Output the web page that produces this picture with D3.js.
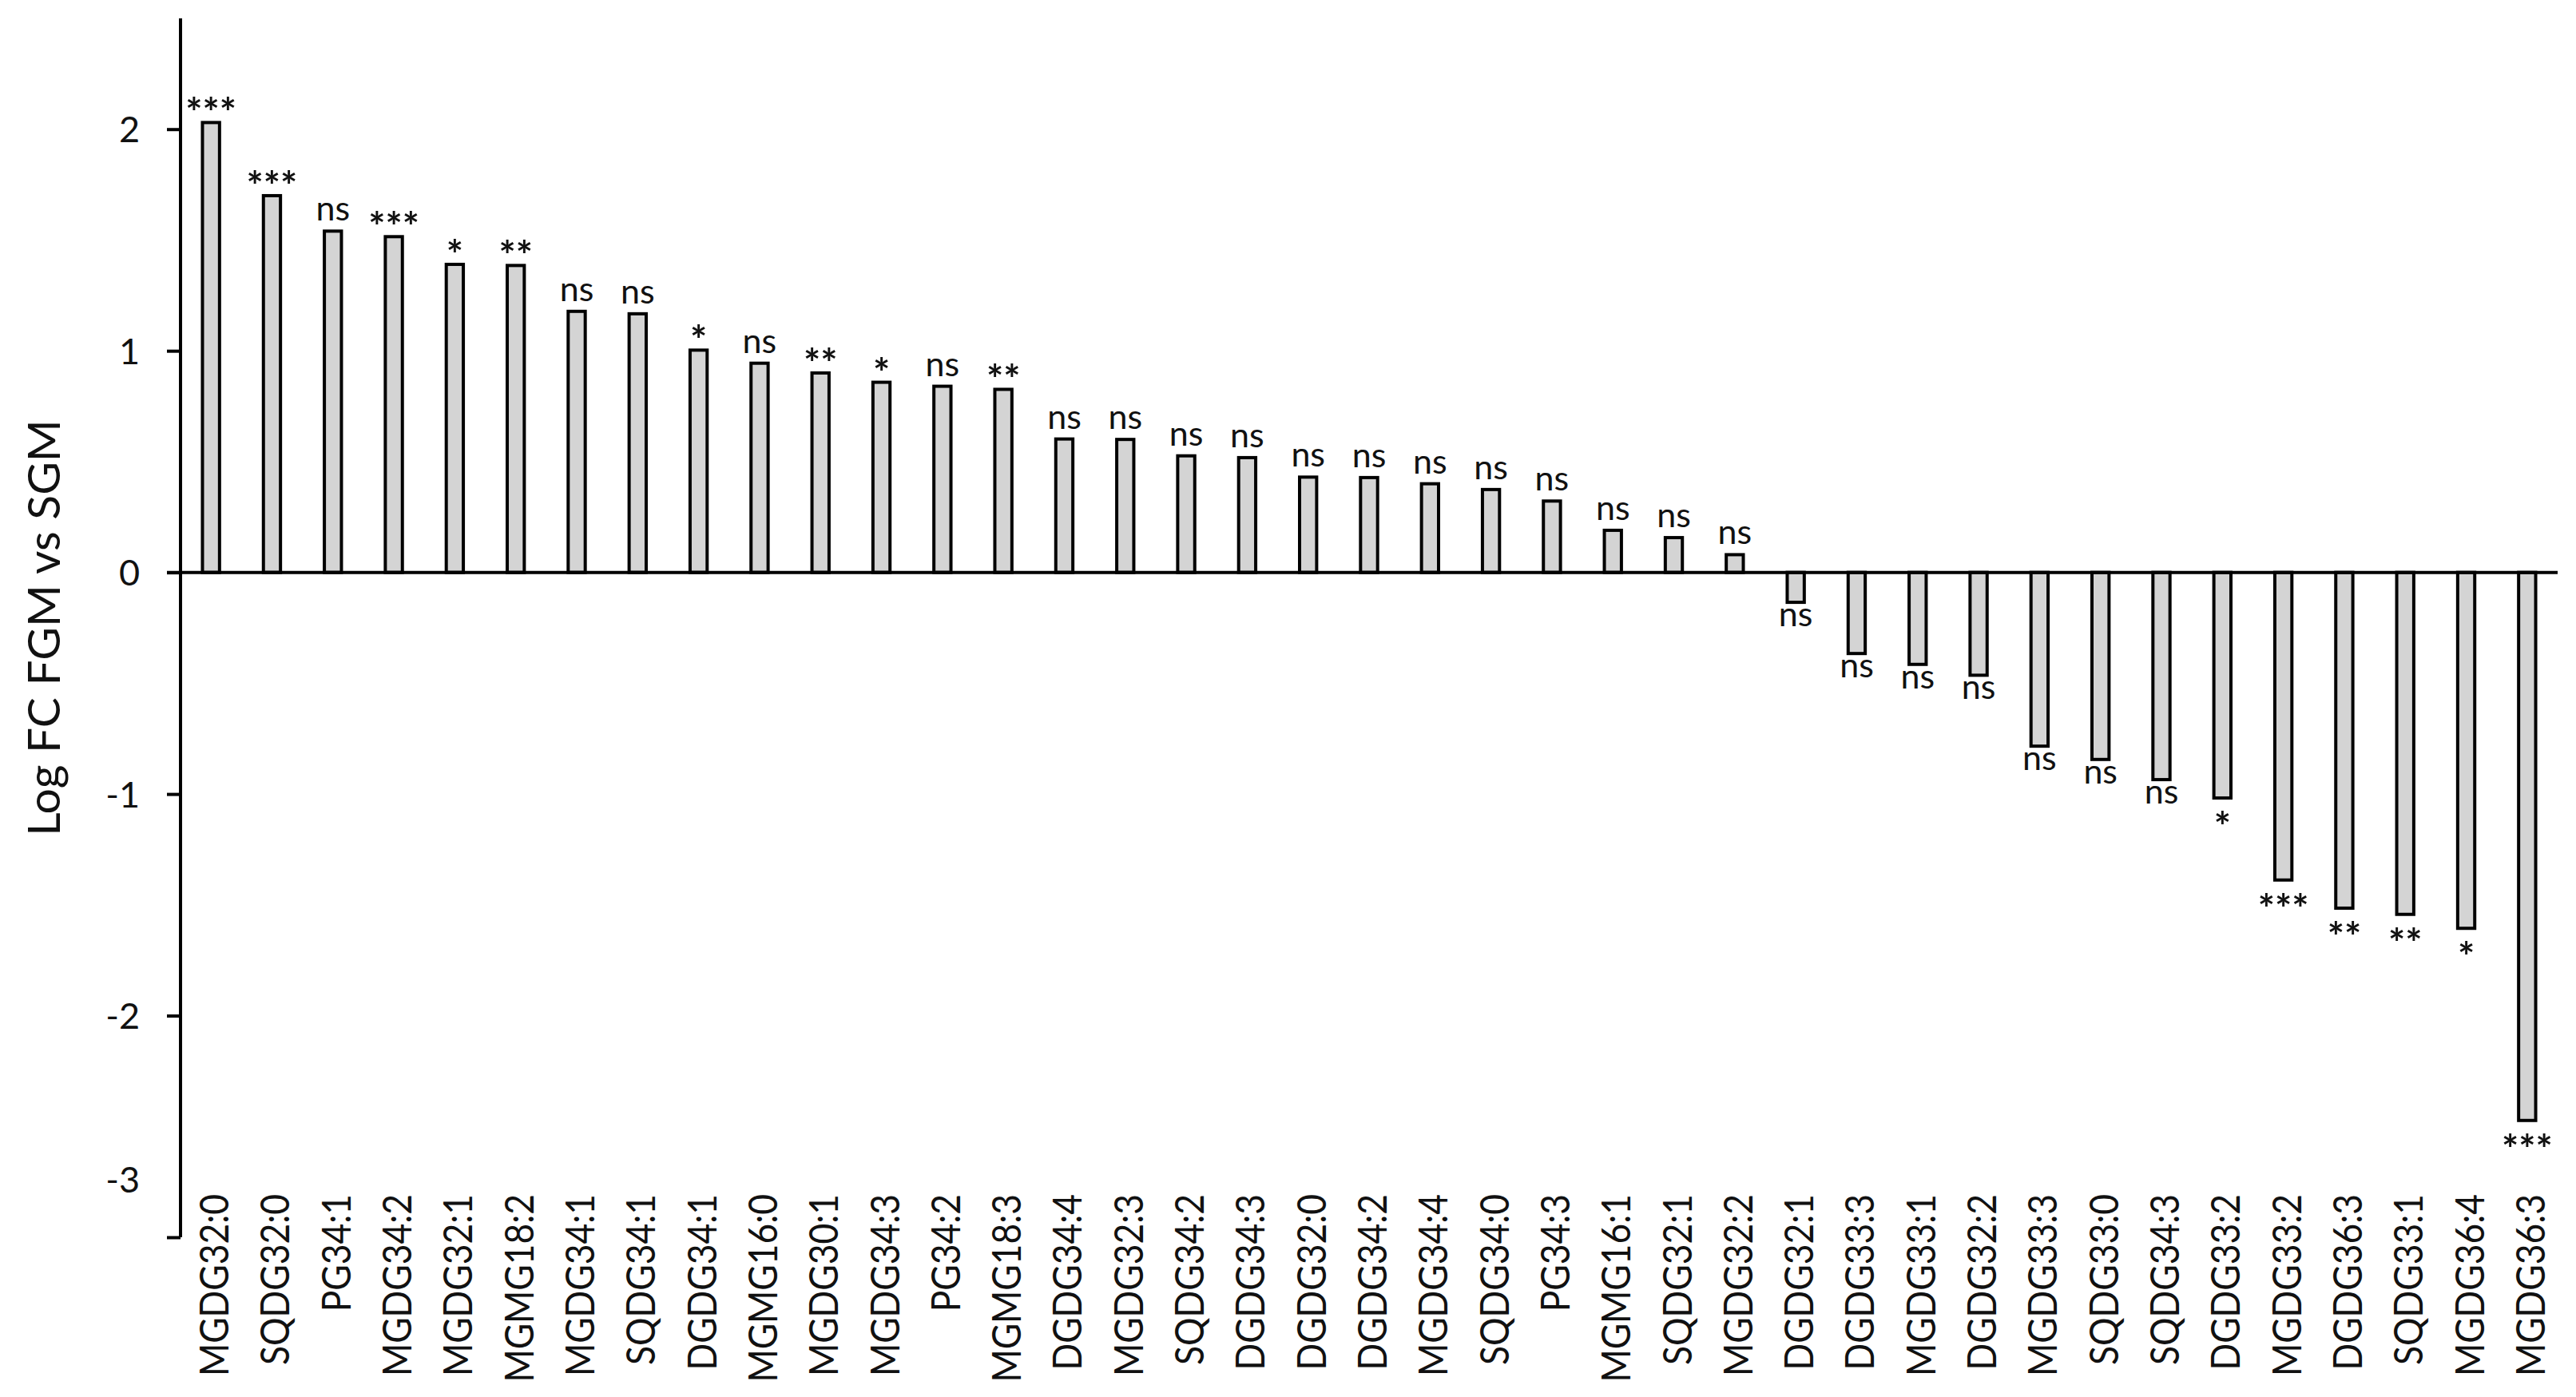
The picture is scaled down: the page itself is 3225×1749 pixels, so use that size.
<!DOCTYPE html>
<html>
<head>
<meta charset="utf-8">
<script src="https://cdn.jsdelivr.net/npm/d3@7"></script>
<style>
  html, body { margin: 0; padding: 0; background: #fff; }
  svg { display: block; }
  text { font-family: Lato, "Open Sans", sans-serif; fill: #111; }
</style>
</head>
<body>
<svg id="chart" width="3225" height="1749"></svg>
<script>
const categories = [
  "MGDG32:0","SQDG32:0","PG34:1","MGDG34:2","MGDG32:1","MGMG18:2","MGDG34:1","SQDG34:1",
  "DGDG34:1","MGMG16:0","MGDG30:1","MGDG34:3","PG34:2","MGMG18:3","DGDG34:4","MGDG32:3",
  "SQDG34:2","DGDG34:3","DGDG32:0","DGDG34:2","MGDG34:4","SQDG34:0","PG34:3","MGMG16:1",
  "SQDG32:1","MGDG32:2","DGDG32:1","DGDG33:3","MGDG33:1","DGDG32:2","MGDG33:3","SQDG33:0",
  "SQDG34:3","DGDG33:2","MGDG33:2","DGDG36:3","SQDG33:1","MGDG36:4","MGDG36:3"
];
const logFC = [
  2.03, 1.70, 1.54, 1.515, 1.39, 1.385, 1.178, 1.167,
  1.003, 0.944, 0.90, 0.858, 0.84, 0.826, 0.602, 0.60,
  0.526, 0.518, 0.43, 0.428, 0.40, 0.374, 0.322, 0.19,
  0.157, 0.08, -0.135, -0.366, -0.415, -0.464, -0.784, -0.844,
  -0.935, -1.018, -1.388, -1.515, -1.543, -1.606, -2.473
];
const significance = [
  "***","***","ns","***","*","**","ns","ns",
  "*","ns","**","*","ns","**","ns","ns",
  "ns","ns","ns","ns","ns","ns","ns","ns",
  "ns","ns","ns","ns","ns","ns","ns","ns",
  "ns","*","***","**","**","*","***"
];
const yTicks = [-3, -2, -1, 0, 1, 2];
const yDomain = [-3, 2.5];
const yTitle = "Log FC FGM vs SGM";

const svg = d3.select("#chart");
svg.append("rect").attr("width", 3225).attr("height", 1749).attr("fill", "#fff");

const x = d3.scaleBand().domain(categories).range([226, 3202]).paddingInner(0.72).paddingOuter(0.36);
const y = d3.scaleLinear().domain(yDomain).range([1549, 23]);

const data = categories.map((c, i) => ({ c, v: logFC[i], s: significance[i] }));

// bars
svg.append("g").selectAll("rect").data(data).join("rect")
  .attr("x", d => x(d.c))
  .attr("width", x.bandwidth())
  .attr("y", d => y(Math.max(0, d.v)))
  .attr("height", d => Math.abs(y(d.v) - y(0)))
  .attr("fill", "#d4d4d4")
  .attr("stroke", "#000")
  .attr("stroke-width", 4);

// y axis
const yAxis = d3.axisLeft(y).tickValues(yTicks).tickSize(17).tickPadding(34).tickFormat(d => String(d));
const gy = svg.append("g").attr("transform", "translate(226,0)").call(yAxis);
gy.select(".domain").attr("stroke", "#000").attr("stroke-width", 4).attr("d", `M0,${y(yDomain[1])}V${y(yDomain[0])}`);
gy.selectAll(".tick line").attr("stroke", "#000").attr("stroke-width", 4);
gy.selectAll(".tick text")
  .attr("font-size", 45).attr("font-family", "Lato, sans-serif").attr("fill", "#222")
  .attr("dy", d => d === yDomain[0] ? "-1.25em" : "0.36em");

// zero line (category axis)
svg.append("line")
  .attr("x1", 209).attr("x2", x.range()[1])
  .attr("y1", y(0)).attr("y2", y(0))
  .attr("stroke", "#000").attr("stroke-width", 4);

// category labels
svg.append("g").selectAll("text").data(data).join("text")
  .attr("transform", d => `translate(${x(d.c) + x.bandwidth() / 2 + 22},1495) rotate(-90) scale(0.87,1)`)
  .attr("text-anchor", "end")
  .attr("font-size", 51)
  .text(d => d.c);

// significance labels
svg.append("g").selectAll("text").data(data).join("text")
  .attr("x", d => x(d.c) + x.bandwidth() / 2)
  .attr("y", d => {
    const star = d.s !== "ns";
    if (d.v >= 0) return y(d.v) - (star ? -6 : 13);
    return y(d.v) + (star ? 54 : 30);
  })
  .attr("text-anchor", "middle")
  .attr("font-size", d => d.s === "ns" ? 43 : 50)
  .attr("font-weight", d => d.s === "ns" ? 400 : 700)
  .text(d => d.s);

// y title
svg.append("text")
  .attr("transform", `translate(75,${(y(yDomain[0]) + y(yDomain[1])) / 2}) rotate(-90)`)
  .attr("text-anchor", "middle")
  .attr("font-size", 57)
  .text(yTitle);
</script>
</body>
</html>
